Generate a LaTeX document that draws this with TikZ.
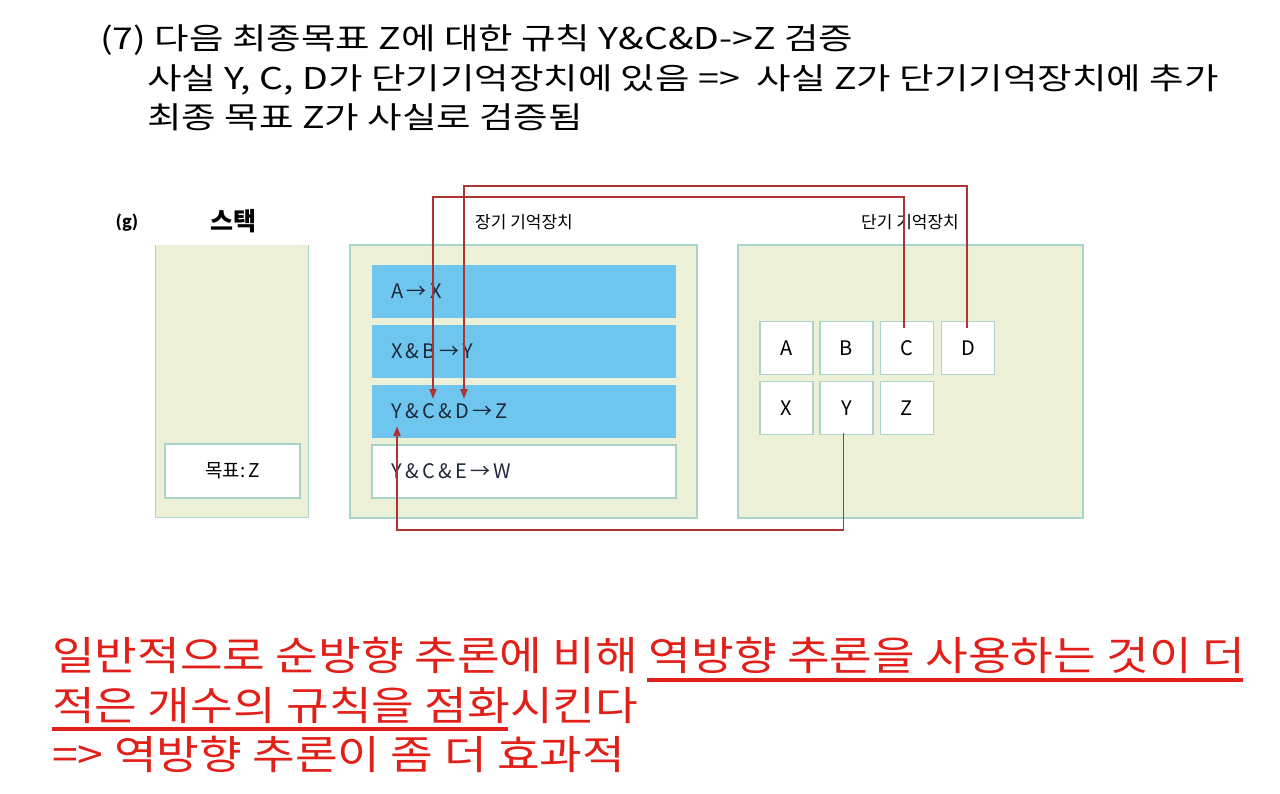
\documentclass[tikz,border=0pt]{standalone}
\usepackage{fontspec}
\setmainfont{Noto Sans CJK KR}
\newfontfamily\titlefont[FakeStretch=1.25]{Noto Sans CJK KR}
\newfontfamily\notefont[FakeStretch=1.16]{Noto Sans CJK KR}
\usetikzlibrary{arrows.meta}
\definecolor{boxfill}{RGB}{235,240,214}
\definecolor{boxline}{RGB}{168,212,204}
\definecolor{rulebl}{RGB}{110,198,238}
\definecolor{linkred}{RGB}{172,52,50}
\definecolor{notered}{RGB}{226,32,26}
\definecolor{ruleink}{RGB}{30,40,60}
\tikzset{
  area/.style={draw=boxline,line width=1.2pt,fill=boxfill,inner sep=0pt},
  rulerow/.style={fill=rulebl,minimum width=304pt,minimum height=53pt,inner sep=0pt,anchor=center},
  rulewhite/.style={draw=boxline,line width=1.2pt,fill=white,minimum width=304pt,minimum height=53pt,inner sep=0pt},
  ruletext/.style={font=\fontsize{20}{22}\selectfont,text=ruleink,anchor=west,inner sep=0pt},
  cell/.style={draw=boxline,line width=1.2pt,fill=white,minimum width=53pt,minimum height=53pt,inner sep=0pt,font=\fontsize{20}{22}\selectfont},
  link/.style={draw=linkred,line width=1.8pt},
  linkarrow/.style={link,-{Triangle[length=10pt,width=7pt]}},
  titletxt/.style={font=\titlefont\fontsize{30}{34}\selectfont,anchor=base west,inner sep=0pt},
  notetxt/.style={font=\notefont\fontsize{40}{46}\selectfont,text=notered,anchor=base west,inner sep=0pt},
}
\begin{document}
\begin{tikzpicture}[x=1pt,y=-1pt]
\useasboundingbox[fill=white] (0,0) rectangle (1280,793);

% title
\node[titletxt] (t1) at (100,49) {(7) 다음 최종목표 Z에 대한 규칙 Y\&C\&D->Z 검증};
\node[titletxt] (t2) at (147,89) {사실 Y, C, D가 단기기억장치에 있음 =>\ \ 사실 Z가 단기기억장치에 추가};
\node[titletxt] (t3) at (147,128) {최종 목표 Z가 사실로 검증됨};

% headings
\node[font=\bfseries\fontsize{16}{18}\selectfont] (g) at (127,223) {(g)};
\node[font=\bfseries\fontsize{25}{28}\selectfont] (stackh) at (233,221) {스택};
\node[font=\fontsize{17}{19}\selectfont] (ltmh) at (524,222) {장기 기억장치};
\node[font=\fontsize{17}{19}\selectfont] (stmh) at (910,222) {단기 기억장치};

% stack
\node[fill=boxfill,minimum width=152pt,minimum height=272pt,inner sep=0pt] (stack) at (232,381) {};
\draw[draw=boxline,line width=1.2pt] (stack.north west) -- (stack.south west) -- (stack.south east) -- (stack.north east);
\node[draw=boxline,line width=1.2pt,fill=white,minimum width=135pt,minimum height=54pt,inner sep=0pt,font=\fontsize{19}{21}\selectfont] (goal) at (232.5,471) {목표:\,Z};

% long-term memory
\node[area,minimum width=347pt,minimum height=273pt] (ltm) at (523.5,381.5) {};
\node[rulerow] (r1) at (524,291.5) {};
\node[rulerow] (r2) at (524,351.5) {};
\node[rulerow] (r3) at (524,411) {};
\node[rulewhite] (r4) at (524,471.5) {};
\node[ruletext] (r1t) at (391,291.5) {A\,→\,X};
\node[ruletext] (r2t) at (391,351.5) {X\,\&\,B\,→\,Y};
\node[ruletext] (r3t) at (391,411) {Y\,\&\,C\,\&\,D\,→\,Z};
\node[ruletext] (r4t) at (391,471.5) {Y\,\&\,C\,\&\,E\,→\,W};

% short-term memory
\node[area,minimum width=345pt,minimum height=273pt] (stm) at (910.5,381.5) {};
\node[cell] (A) at (786.5,348) {A};
\node[cell] (B) at (846.5,348) {B};
\node[cell] (C) at (907,348) {C};
\node[cell] (D) at (968,348) {D};
\node[cell] (X) at (786.5,408) {X};
\node[cell] (Y) at (846.5,408) {Y};
\node[cell] (Z) at (907,408) {Z};

% connectors
\coordinate (cbend) at (433,197);
\coordinate (ctip) at (433,399);
\coordinate (dbend) at (464,186);
\coordinate (dtip) at (464,399);
\coordinate (ybend) at (397,530);
\coordinate (ytip) at (397,426);
\draw[linkarrow] ([xshift=-3pt,yshift=-7pt]C.north) |- (cbend) -- (ctip);
\draw[linkarrow] ([xshift=-1pt,yshift=-7pt]D.north) |- (dbend) -- (dtip);
\draw[linkarrow] ([xshift=-3pt,yshift=2pt]Y.south) |- (ybend) -- (ytip);

% note
\node[notetxt] (n1) at (52,670) {일반적으로 순방향 추론에 비해 역방향 추론을 사용하는 것이 더};
\node[notetxt] (n2) at (52,720) {적은 개수의 규칙을 점화시킨다};
\node[notetxt] (n3) at (52,769) {=> 역방향 추론이 좀 더 효과적};
\draw[notered,line width=3.5pt] (647,680) -- (1243,680);
\draw[notered,line width=3.5pt] (52,729) -- (508,729);
\end{tikzpicture}
\end{document}
